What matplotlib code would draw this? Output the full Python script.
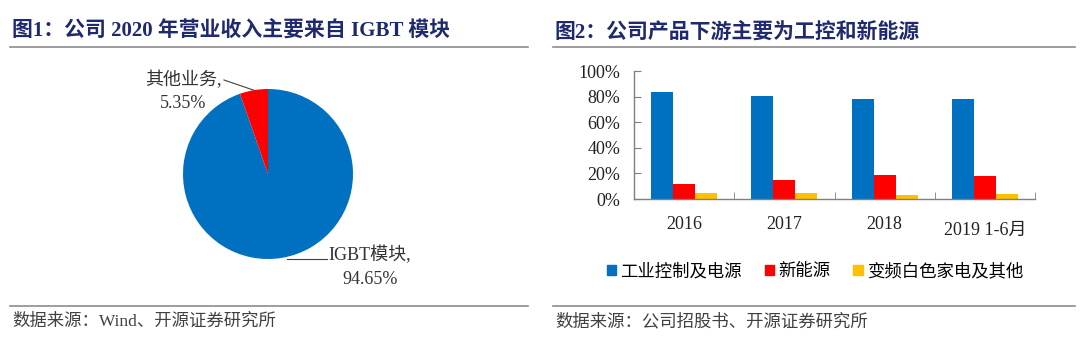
import matplotlib
matplotlib.use("Agg")
import matplotlib.pyplot as plt
from matplotlib.lines import Line2D
from matplotlib.patches import Patch
from matplotlib.transforms import ScaledTranslation
import numpy as np

plt.rcParams['font.family'] = ['Liberation Serif', 'Noto Sans CJK SC', 'DejaVu Sans']

# pie data (2020 revenue split)
pie_labels = ["IGBT模块", "其他业务"]
pie_values = [94.65, 5.35]
pie_colors = ["#0070C0", "#FF0000"]

# bar data (downstream split)
years = ["2016", "2017", "2018", "2019 1-6月"]
series_names = ["工业控制及电源", "新能源", "变频白色家电及其他"]
gongkong = [83.6, 80.3, 78.4, 78.2]
xinnengyuan = [12.0, 14.8, 18.4, 17.9]
qita = [4.4, 4.9, 3.1, 4.2]
bar_colors = ["#0070C0", "#FF0000", "#FFC000"]

W, H = 1080, 354
fig = plt.figure(figsize=(W / 100, H / 100), dpi=100)
fig.patch.set_facecolor("white")


def fx(px):
    return px / W


def fy(py):
    return 1 - py / H


title_color = "#1F2A6E"
line_color = "#8C8C8C"
src_color = "#404040"

# titles + rules
fig.text(fx(12), fy(32), "图1：公司 2020 年营业收入主要来自 IGBT 模块", fontsize=15,
         fontweight="bold", color=title_color, va="center")
fig.text(fx(555), fy(32), "图2：公司产品下游主要为工控和新能源", fontsize=15,
         fontweight="bold", color=title_color, va="center")
for x0, x1 in [(10, 528), (553, 1075)]:
    fig.add_artist(Line2D([fx(x0), fx(x1)], [fy(47), fy(47)], color=line_color, lw=1.2))
    fig.add_artist(Line2D([fx(x0), fx(x1)], [fy(306), fy(306)], color=line_color, lw=1.2))
fig.text(fx(12), fy(322), "数据来源：Wind、开源证券研究所", fontsize=12.5, color=src_color, va="center")
fig.text(fx(555), fy(322), "数据来源：公司招股书、开源证券研究所", fontsize=12.5, color=src_color, va="center")

# ---- pie ----
cx, cy, r = 268, 174, 85
axp = fig.add_axes([fx(cx - r), fy(cy + r), 2 * r / W, 2 * r / H])
axp.pie(pie_values, colors=pie_colors, startangle=90, counterclock=False, radius=1,
        wedgeprops=dict(linewidth=0))
axp.set_xlim(-1, 1)
axp.set_ylim(-1, 1)
axp.set_aspect("equal")
axp.axis("off")

# labels with leader lines (pie data coords, radius 1 = 85px)
ang_red = np.deg2rad(90 + pie_values[1] / 100 * 360 / 2)
axp.plot([np.cos(ang_red), (224 - cx) / r], [np.sin(ang_red), (cy - 80) / r],
         color="#404040", lw=0.8, clip_on=False)
axp.text((183 - cx) / r, (cy - 91) / r, f"{pie_labels[1]},\n{pie_values[1]:.2f}%",
         ha="center", va="center", fontsize=13, color="#333333", linespacing=1.45)
axp.plot([(287 - cx) / r, (327 - cx) / r], [(cy - 259) / r, (cy - 259) / r],
         color="#404040", lw=0.8, clip_on=False)
axp.text((370 - cx) / r, (cy - 267) / r, f"{pie_labels[0]},\n{pie_values[0]:.2f}%",
         ha="center", va="center", fontsize=13, color="#333333", linespacing=1.5)

# ---- bars ----
axb = fig.add_axes([fx(634), fy(199), 401 / W, 128 / H])
x = np.arange(len(years))
bw = 0.22
for i, (vals, c) in enumerate(zip([gongkong, xinnengyuan, qita], bar_colors)):
    axb.bar(x + (i - 1) * bw, vals, width=bw, color=c, linewidth=0)
axb.set_xlim(-0.5, len(years) - 0.5)
axb.set_ylim(0, 100)
axb.set_yticks(np.arange(0, 101, 20))
axb.set_yticklabels([f"{v}%" for v in range(0, 101, 20)])
axb.set_xticks(x)
axb.set_xticklabels(years)
axb.set_xticks(np.arange(-0.5, len(years)), minor=True)
axb.tick_params(axis="x", which="major", length=0, pad=12, labelsize=13, colors="#222222")
axb.tick_params(axis="x", which="minor", direction="in", length=5, color="#7F7F7F")
axb.tick_params(axis="y", direction="in", length=5, pad=10, labelsize=13, color="#7F7F7F",
                labelcolor="#222222")
# last category label sits a bit lower in the original
lbl = axb.get_xticklabels()[-1]
lbl.set_transform(lbl.get_transform() + ScaledTranslation(0, -0.06, fig.dpi_scale_trans))
for s in ["top", "right"]:
    axb.spines[s].set_visible(False)
for s in ["left", "bottom"]:
    axb.spines[s].set_color("#7F7F7F")
    axb.spines[s].set_linewidth(1)

handles = [Patch(color=c) for c in bar_colors]
fig.legend(handles, series_names, loc="center", bbox_to_anchor=(fx(815), fy(272)),
           ncol=3, frameon=False, fontsize=12.5, handlelength=0.55, handleheight=0.55,
           handletextpad=0.25, columnspacing=1.3, borderaxespad=0)

fig.savefig("out.png", dpi=100)
